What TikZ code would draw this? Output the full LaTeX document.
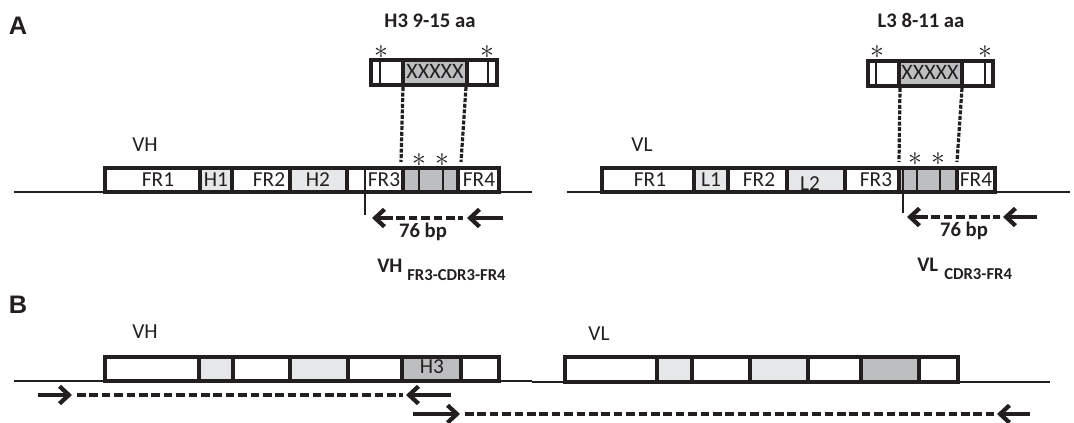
\documentclass[tikz,border=0pt]{standalone}
\usepackage{fontspec}
\setmainfont{Carlito}
\newfontfamily\lsans{Liberation Sans}
\usetikzlibrary{arrows.meta}
\definecolor{lg}{RGB}{230,231,232}
\definecolor{dg}{RGB}{188,190,192}
\definecolor{ink}{RGB}{35,31,32}
\begin{document}
\begin{tikzpicture}[x=0.75pt,y=-0.75pt,
  every node/.style={inner sep=0pt, text=ink, font=\fontsize{16}{19}\selectfont},
  cell/.style={draw=ink, line width=2.6pt},
  thinln/.style={draw=ink, line width=0.8pt},
  midln/.style={draw=ink, line width=1.2pt},
  baseln/.style={draw=ink, line width=2pt},
  conn/.style={draw=ink, line width=2.4pt, dash pattern=on 3pt off 1.2pt},
  dashar/.style={draw=ink, line width=3.2pt, dash pattern=on 6.5pt off 2.8pt},
  solar/.style={draw=ink, line width=3.2pt, -{Straight Barb[length=7pt,width=13pt]}},
  lbl/.style={anchor=base},
  bold/.style={anchor=base, font=\fontsize{15.5}{18}\selectfont\bfseries},
  star/.style={font=\fontsize{21}{24}\selectfont}
]
\useasboundingbox (0,0) rectangle (1074,423);

% ---------------- panel A ----------------
\node[anchor=base, font=\fontsize{19}{22}\selectfont\lsans\bfseries] (labA) at (18,35) {A};
\node[bold] (h3t) at (430,28) {H3 9-15 aa};
\node[bold] (l3t) at (921,28) {L3 8-11 aa};

% base lines
\draw[baseln] (14,192) -- (532,192);
\draw[baseln] (567,192) -- (1070,192);

% VH row
\node[lbl] (vhA) at (145,152) {VH};
\fill[lg] (200,168) rectangle (232,192);
\fill[lg] (290,168) rectangle (347,192);
\fill[dg] (403,168) rectangle (458,192);
\draw[midln] (419,168) -- (419,192) (443,168) -- (443,192);
\draw[thinln] (365,168) -- (365,215);
\draw[cell] (105,168) rectangle (499,192);
\foreach \x in {200,232,290,347,403,458} \draw[cell] (\x,168) -- (\x,192);
\node[lbl] (vfr1) at (158,187) {FR1};
\node[lbl] (vh1) at (216,187) {H1};
\node[lbl] (vfr2) at (269,187) {FR2};
\node[lbl] (vh2) at (318,187) {H2};
\node[lbl] (vfr3) at (384,187) {FR3};
\node[lbl] (vfr4) at (479,187) {FR4};
\node[star] (vs1) at (419,160) {$\ast$};
\node[star] (vs2) at (442,160) {$\ast$};

% VH top box
\fill[dg] (403,60) rectangle (467,85);
\draw[thinln] (380,60) -- (380,85) (488,60) -- (488,85);
\draw[cell] (371,60) rectangle (497,85);
\draw[cell] (403,60) -- (403,85) (467,60) -- (467,85);
\node[lbl, font=\fontsize{16.5}{19}\selectfont] (vx) at (435,79) {XXXXX};
\node[star] (vts1) at (381,52) {$\ast$};
\node[star] (vts2) at (487,52) {$\ast$};
\coordinate (vc1a) at (403,87); \coordinate (vc1b) at (401,162);
\coordinate (vc2a) at (466,87); \coordinate (vc2b) at (461,162);
\draw[conn] (vc1a) -- (vc1b);
\draw[conn] (vc2a) -- (vc2b);

% VH arrows
\coordinate (va0) at (372,218); \coordinate (va1) at (384,218);
\coordinate (va2) at (463,218); \coordinate (va3) at (467,218);
\coordinate (va4) at (503,218);
\draw[dashar] (va1) -- (va2);
\draw[solar] (va1) -- (va0);
\draw[solar] (va4) -- (va3);
\node[bold] (vbp) at (423,238) {76 bp};
\node[anchor=base west, font=\fontsize{15.5}{18}\selectfont\bfseries] (vhsub) at (377,273) {VH};
\node[anchor=base west, font=\fontsize{12.5}{14}\selectfont\bfseries] (vhsubt) at (407,281) {FR3-CDR3-FR4};

% VL row
\node[lbl] (vlA) at (642,152) {VL};
\fill[lg] (694,168) rectangle (728,192);
\fill[lg] (787,168) rectangle (845,192);
\fill[dg] (899,168) rectangle (957,193);
\draw[midln] (917,168) -- (917,192) (940,168) -- (940,192);
\draw[thinln] (903,168) -- (903,213);
\draw[cell] (602,168) rectangle (995,192);
\foreach \x in {694,728,787,845,899,957} \draw[cell] (\x,168) -- (\x,192);
\node[lbl] (lfr1) at (650,187) {FR1};
\node[lbl] (ll1) at (711,187) {L1};
\node[lbl] (lfr2) at (759,187) {FR2};
\node[lbl] (ll2) at (810,191) {L2};
\node[lbl] (lfr3) at (876,187) {FR3};
\node[lbl] (lfr4) at (976,187) {FR4};
\node[star] (ls1) at (915,159) {$\ast$};
\node[star] (ls2) at (938,159) {$\ast$};

% VL top box
\fill[dg] (899,61) rectangle (962,86);
\draw[thinln] (876,61) -- (876,86) (985,61) -- (985,86);
\draw[cell] (868,61) rectangle (993,86);
\draw[cell] (899,61) -- (899,86) (962,61) -- (962,86);
\node[lbl, font=\fontsize{16.5}{19}\selectfont] (lx) at (930,80) {XXXXX};
\node[star] (lts1) at (877,52) {$\ast$};
\node[star] (lts2) at (985,52) {$\ast$};
\coordinate (lc1a) at (900,88); \coordinate (lc1b) at (899,162);
\coordinate (lc2a) at (962,88); \coordinate (lc2b) at (957,162);
\draw[conn] (lc1a) -- (lc1b);
\draw[conn] (lc2a) -- (lc2b);

% VL arrows
\coordinate (la0) at (907,217); \coordinate (la1) at (919,217);
\coordinate (la2) at (1000,217); \coordinate (la3) at (1003,217);
\coordinate (la4) at (1037,217);
\draw[dashar] (la1) -- (la2);
\draw[solar] (la1) -- (la0);
\draw[solar] (la4) -- (la3);
\node[bold] (lbp) at (964,237) {76 bp};
\node[anchor=base west, font=\fontsize{15.5}{18}\selectfont\bfseries] (vlsub) at (917,272) {VL};
\node[anchor=base west, font=\fontsize{12.5}{14}\selectfont\bfseries] (vlsubt) at (944,280) {CDR3-FR4};

% ---------------- panel B ----------------
\node[anchor=base, font=\fontsize{19}{22}\selectfont\lsans\bfseries] (labB) at (18,314) {B};
\draw[baseln] (14,381) -- (532,381);
\draw[baseln] (532,382) -- (1050,382);

\node[lbl] (bvh) at (145,339) {VH};
\fill[lg] (199,357) rectangle (233,381);
\fill[lg] (290,357) rectangle (348,381);
\fill[dg] (402,357) rectangle (461,381);
\draw[cell] (105,357) rectangle (499,381);
\foreach \x in {199,233,290,348,402,461} \draw[cell] (\x,357) -- (\x,381);
\node[lbl] (bh3) at (432,374) {H3};

\node[lbl] (bvl) at (599,341) {VL};
\fill[lg] (657,357) rectangle (692,382);
\fill[lg] (750,357) rectangle (808,382);
\fill[dg] (861,357) rectangle (919,382);
\draw[cell] (565,357) rectangle (958,382);
\foreach \x in {657,692,750,808,861,919} \draw[cell] (\x,357) -- (\x,382);

% B arrows
\coordinate (b1a) at (38,395); \coordinate (b1b) at (72,395);
\coordinate (b1c) at (77,395); \coordinate (b1d) at (403,395);
\coordinate (b1e) at (406,395); \coordinate (b1f) at (451,395);
\draw[solar] (b1a) -- (b1b);
\draw[dashar] (b1c) -- (b1d);
\draw[solar] (b1f) -- (b1e);
\coordinate (b2a) at (413,414); \coordinate (b2b) at (460,414);
\coordinate (b2c) at (465,414); \coordinate (b2d) at (994,414);
\coordinate (b2e) at (997,414); \coordinate (b2f) at (1030,414);
\draw[solar] (b2a) -- (b2b);
\draw[dashar] (b2c) -- (b2d);
\draw[solar] (b2f) -- (b2e);
\end{tikzpicture}
\end{document}
